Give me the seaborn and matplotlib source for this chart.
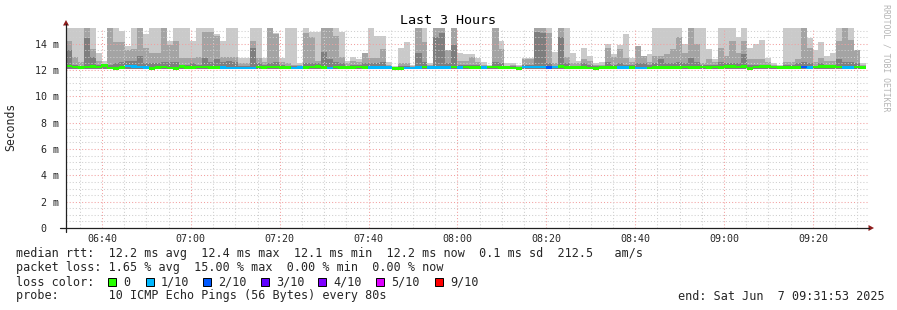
import matplotlib
matplotlib.use("Agg")
import matplotlib.pyplot as plt
from matplotlib.patches import Rectangle, Polygon
from matplotlib.lines import Line2D
import numpy as np
import pandas as pd
import seaborn as sns

# ---------------- data ----------------
T = 15.3  # smoke clipped at the top of the graph
smoke_max = [
    T, T, T, T, T, 13.3, 12.7, T, T, 15.0,
    13.8, T, T, 14.7, T, T, T, 14.2, T, T,
    T, 14.2, T, T, T, 14.7, 14.2, T, T, 12.9,
    12.9, T, T, 12.9, T, 14.8, 12.9, T, T, 12.5,
    T, 14.9, 14.9, T, T, T, 14.9, 12.7, 13.0, 12.8,
    13.3, T, 14.6, 14.6, 12.6, 12.3, 13.7, 14.1, 12.4, T,
    T, 12.5, T, T, 13.5, T, 13.3, 13.2, 13.2, 12.9,
    12.6, 12.4, T, 14.2, 12.5, 12.5, 12.4, 12.9, 12.9, T,
    T, T, 13.4, T, T, 13.3, 12.7, 13.7, 13.1, 12.5,
    12.6, 14.0, 13.2, 13.9, 14.7, 12.9, 13.8, 13.1, 13.2, T,
    T, T, T, T, 14.0, T, T, T, 13.6, 12.8,
    T, T, T, 14.5, T, 13.7, 14.0, 14.3, 12.9, 12.5,
    12.4, T, T, T, T, 14.4, 13.5, 14.1, 13.1, 13.3,
    T, T, T, 13.5, 12.5,
]
smoke_mid = [
    14.2, 13.0, 12.6, T, 13.6, 12.7, 12.4, T, 14.1, 14.1,
    13.5, 13.6, T, 13.7, 13.3, 13.3, T, 13.9, 14.2, 12.9,
    12.9, 12.9, 13.0, 14.9, 14.9, 14.6, 13.0, 13.0, 13.0, 12.5,
    12.5, 14.2, 12.9, 12.6, T, 14.7, 12.6, 12.5, 12.4, 12.4,
    14.8, 14.5, 12.7, T, T, 14.6, 13.0, 12.5, 12.7, 12.6,
    13.3, 12.9, 12.9, 13.6, 12.4, 12.2, 12.5, 12.5, 12.3, T,
    14.1, 12.4, T, T, 13.5, T, 12.7, 12.7, 13.0, 12.6,
    12.4, 12.3, T, 13.6, 12.3, 12.4, 12.3, 12.8, 12.8, T,
    T, 14.8, 12.5, T, 13.0, 12.5, 12.5, 12.8, 12.7, 12.4,
    12.4, 13.7, 13.0, 13.6, 12.9, 12.6, 13.8, 13.1, 12.6, 13.1,
    13.1, 13.2, 13.6, 14.5, 13.3, T, 14.0, 12.5, 12.8, 12.6,
    13.7, 13.1, 14.2, 13.3, 14.2, 12.8, 12.8, 12.8, 12.6, 12.4,
    12.3, 12.6, 12.6, 12.8, T, 13.7, 12.6, 12.9, 12.7, 12.7,
    14.2, T, 14.3, 13.5, 12.4,
]
smoke_dark = [
    13.5, 12.4, 12.3, 14.4, 13.0, 12.4, 12.3, 12.4, 12.5, 12.6,
    12.7, 12.7, 13.1, 12.5, 12.5, 12.5, 12.6, 12.6, 12.6, 12.4,
    12.4, 12.5, 12.4, 12.9, 12.6, 12.8, 12.6, 12.7, 12.6, 12.3,
    12.3, 13.7, 12.5, 12.4, 12.5, 12.6, 12.4, 12.3, 12.3, 12.3,
    12.5, 12.5, 12.5, 13.4, 12.8, 12.6, 12.5, 12.3, 12.4, 12.4,
    12.5, 12.5, 12.5, 12.6, 12.3, 12.2, 12.3, 12.3, 12.2, 13.3,
    12.6, 12.3, 14.5, 14.8, 12.5, 13.9, 12.4, 12.4, 12.4, 12.4,
    12.3, 12.2, 12.6, 12.5, 12.3, 12.3, 12.2, 12.4, 12.4, 14.9,
    14.8, 12.5, 12.3, 14.5, 12.5, 12.3, 12.3, 12.5, 12.4, 12.3,
    12.3, 12.6, 12.4, 12.5, 12.4, 12.4, 12.5, 12.5, 12.4, 12.5,
    12.8, 12.5, 12.5, 12.6, 12.5, 12.9, 12.6, 12.4, 12.4, 12.4,
    12.6, 12.5, 12.5, 12.5, 13.2, 12.4, 12.4, 12.4, 12.4, 12.3,
    12.2, 12.4, 12.4, 12.5, 12.6, 12.5, 12.3, 12.5, 12.4, 12.4,
    12.8, 12.6, 12.6, 12.5, 12.3,
]
median_rtt = [
    12.30, 12.22, 12.20, 12.22, 12.25, 12.22, 12.35, 12.15, 12.10, 12.20,
    12.30, 12.25, 12.22, 12.20, 12.10, 12.20, 12.22, 12.15, 12.12, 12.25,
    12.20, 12.20, 12.22, 12.22, 12.20, 12.18, 12.18, 12.15, 12.15, 12.15,
    12.15, 12.15, 12.22, 12.20, 12.22, 12.22, 12.20, 12.20, 12.15, 12.18,
    12.20, 12.22, 12.25, 12.18, 12.15, 12.22, 12.20, 12.18, 12.18, 12.22,
    12.20, 12.18, 12.18, 12.18, 12.18, 12.12, 12.12, 12.15, 12.15, 12.18,
    12.22, 12.18, 12.18, 12.18, 12.18, 12.22, 12.20, 12.22, 12.20, 12.20,
    12.18, 12.22, 12.22, 12.20, 12.18, 12.15, 12.10, 12.22, 12.22, 12.22,
    12.22, 12.20, 12.22, 12.25, 12.20, 12.18, 12.18, 12.20, 12.15, 12.12,
    12.18, 12.20, 12.20, 12.18, 12.18, 12.20, 12.15, 12.15, 12.15, 12.20,
    12.20, 12.20, 12.20, 12.18, 12.22, 12.20, 12.20, 12.22, 12.20, 12.22,
    12.20, 12.25, 12.28, 12.22, 12.25, 12.10, 12.22, 12.25, 12.25, 12.22,
    12.20, 12.18, 12.18, 12.18, 12.22, 12.20, 12.22, 12.28, 12.28, 12.25,
    12.22, 12.18, 12.18, 12.22, 12.20,
]
lost_pings = [
    0, 0, 0, 0, 0, 0, 0, 0, 0, 0,
    1, 1, 1, 1, 0, 0, 0, 0, 0, 0,
    0, 0, 0, 0, 0, 0, 1, 1, 1, 1,
    1, 1, 0, 0, 0, 0, 0, 0, 1, 1,
    0, 0, 0, 0, 1, 0, 0, 0, 0, 0,
    0, 1, 1, 1, 1, 0, 0, 1, 1, 1,
    0, 1, 1, 1, 1, 0, 1, 0, 0, 0,
    1, 0, 0, 0, 0, 0, 0, 1, 1, 1,
    1, 2, 1, 0, 0, 0, 0, 0, 0, 0,
    0, 0, 0, 1, 1, 0, 1, 1, 0, 0,
    0, 0, 0, 0, 0, 0, 0, 0, 0, 0,
    0, 0, 0, 0, 0, 0, 0, 0, 0, 0,
    0, 0, 0, 0, 2, 1, 0, 0, 0, 0,
    0, 1, 1, 0, 0,
]
SMOKE_FLOOR = 12.05
START = "06:31:54"
STEP_SECONDS = 80
X_START = "06:31:54"
X_END = "09:32:24"

loss_labels = ["0", "1/10", "2/10", "3/10", "4/10", "5/10", "9/10"]
loss_levels = [0, 1, 2, 3, 4, 5, 9]
loss_colors = ["#26ff00", "#00b8ff", "#0059ff", "#5e00ff", "#7e00ff", "#dd00ff", "#ff0000"]

y_ticks = [0, 2, 4, 6, 8, 10, 12, 14]
y_tick_labels = ["0  ", "2 m", "4 m", "6 m", "8 m", "10 m", "12 m", "14 m"]
x_tick_labels = ["06:40", "07:00", "07:20", "07:40", "08:00", "08:20", "08:40", "09:00", "09:20"]

title = "Last 3 Hours"
line_rtt = "median rtt:  12.2 ms avg  12.4 ms max  12.1 ms min  12.2 ms now  0.1 ms sd  212.5   am/s"
line_loss = "packet loss: 1.65 % avg  15.00 % max  0.00 % min  0.00 % now"
line_color = "loss color:"
line_probe = "probe:       10 ICMP Echo Pings (56 Bytes) every 80s"
line_end = "end: Sat Jun  7 09:31:53 2025"
watermark = "RRDTOOL / TOBI OETIKER"


def to_min(s):
    h, m, *rest = [int(v) for v in s.split(":")]
    sec = rest[0] if rest else 0
    return (h - 6) * 60 + m + sec / 60.0

# ---------------- figure ----------------
W, H = 897, 310
sns.set_style("white")
plt.rcParams['font.family'] = ['DejaVu Sans Mono', 'DejaVu Sans']

fig = plt.figure(figsize=(W / 100, H / 100), dpi=100)
fig.patch.set_facecolor("white")
ax = fig.add_axes([66 / W, 1 - 228 / H, (868 - 66) / W, (228 - 28) / H])

n = len(smoke_max)
step = STEP_SECONDS / 60.0
t_left = to_min(START) + step * np.arange(n)
df = pd.DataFrame({
    "t": t_left + step / 2,
    "smax": np.array(smoke_max) - SMOKE_FLOOR,
    "smid": np.array(smoke_mid) - SMOKE_FLOOR,
    "sdark": np.array(smoke_dark) - SMOKE_FLOOR,
    "median": median_rtt,
    "loss": lost_pings,
})

for col, color in [("smax", "#cacaca"), ("smid", "#a4a4a4"), ("sdark", "#7e7e7e")]:
    sns.barplot(data=df, x="t", y=col, native_scale=True, width=1.02,
                color=color, saturation=1, errorbar=None, linewidth=0,
                bottom=SMOKE_FLOOR, ax=ax, zorder=1, antialiased=False)

# median line coloured by loss
MED_H = 0.2
for lvl, c in zip(loss_levels, loss_colors):
    sub = df[df["loss"] == lvl]
    if len(sub):
        ax.bar(sub["t"], MED_H, bottom=sub["median"] - MED_H / 2, width=step * 1.02,
               color=c, linewidth=0, zorder=4, antialiased=False)

ax.set_xlim(to_min(X_START), to_min(X_END))
ax.set_ylim(0, 15.19)

# grid (rrdtool style, dotted)
for y in np.arange(0.5, 15.1, 0.5):
    major = abs(y / 2 - round(y / 2)) < 1e-6
    ax.axhline(y, color="#f2a0a0" if major else "#cfcfcf", lw=0.75,
               ls=(0, (1, 2)), zorder=3)
for m in np.arange(35, 212, 5):
    major = (m % 20 == 0)
    ax.axvline(m, color="#f2a0a0" if major else "#cfcfcf", lw=0.75,
               ls=(0, (1, 2)), zorder=3)

for s in ax.spines.values():
    s.set_visible(False)

xt = [to_min(s) for s in x_tick_labels]
ax.set_xticks(xt)
ax.set_xticklabels(x_tick_labels, fontsize=7.2)
ax.set_yticks(y_ticks)
ax.set_yticklabels(y_tick_labels, fontsize=7.2)
ax.tick_params(axis="x", length=2, width=0.8, color="#555555", pad=2, direction="out")
ax.tick_params(axis="y", length=2, width=0.8, color="#555555", pad=3, direction="out")
ax.set_xlabel("")
ax.set_ylabel("")


def fx(x):
    return x / W


def fy(y):
    return 1 - y / H

# axes lines and arrows
fig.add_artist(Line2D([fx(60), fx(869)], [fy(228), fy(228)], color="#202020", lw=0.9))
fig.add_artist(Line2D([fx(66), fx(66)], [fy(232), fy(24)], color="#202020", lw=0.9))
fig.add_artist(Polygon([[fx(63), fy(25.5)], [fx(69), fy(25.5)], [fx(66), fy(20)]],
                       closed=True, color="#8e1c1c", lw=0))
fig.add_artist(Polygon([[fx(868.5), fy(225)], [fx(868.5), fy(231)], [fx(874), fy(228)]],
                       closed=True, color="#8e1c1c", lw=0))

# texts
FS = 8.5
fig.text(fx(448), fy(20), title, ha="center", va="center", fontsize=9.6, color="black")
fig.text(fx(11), fy(127), "Seconds", ha="center", va="center", rotation=90, fontsize=8.3)
fig.text(fx(886), fy(4), watermark, ha="center", va="top", rotation=270, fontsize=5.9,
         color="#b4b4b4")
fig.text(fx(16), fy(254), line_rtt, ha="left", va="center", fontsize=FS)
fig.text(fx(16), fy(268), line_loss, ha="left", va="center", fontsize=FS)
fig.text(fx(16), fy(282), line_color, ha="left", va="center", fontsize=FS)
fig.text(fx(16), fy(296), line_probe, ha="left", va="center", fontsize=FS)
fig.text(fx(678), fy(296), line_end, ha="left", va="center", fontsize=FS)

box_x = [108, 146, 203, 261, 318, 376, 435]
for bx, lab, c in zip(box_x, loss_labels, loss_colors):
    fig.add_artist(Rectangle((fx(bx), fy(286)), 8 / W, 8 / H, facecolor=c,
                             edgecolor="black", lw=0.7))
    fig.text(fx(bx + 15), fy(282), lab, ha="left", va="center", fontsize=FS)

fig.savefig("out.png", dpi=100, facecolor="white")
